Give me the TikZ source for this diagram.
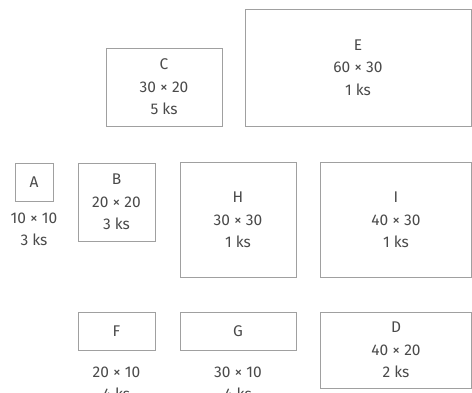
\documentclass[tikz,border=0pt]{standalone}
\usepackage{fontspec}
\setmainfont{Fira Sans}
\usetikzlibrary{positioning}
\definecolor{boxline}{HTML}{A0A0A0}
\definecolor{ink}{HTML}{4A4A4A}
\tikzset{
  part/.style={draw=boxline, line width=0.9pt, inner sep=0pt, text=ink,
    align=center, font=\fontsize{15.5}{22.5}\selectfont},
  note/.style={inner sep=0pt, text=ink, align=center,
    font=\fontsize{15.5}{22.5}\selectfont}
}
\begin{document}
\begin{tikzpicture}[x=1pt,y=-1pt]
		\useasboundingbox (0,0) rectangle (472,392);
		% top row
		\node[part, minimum width=116, minimum height=78] (c) at (164,87) {C\\30 × 20\\5 ks};
		\node[part, minimum width=226, minimum height=117] (e) at (358,67.5) {E\\60 × 30\\1 ks};
		% middle row
		\node[part, minimum width=38, minimum height=38] (a) at (34,182) {A};
		\node[note, below=11pt of a] (adim) {10 × 10\\3 ks};
		\node[part, minimum width=77, minimum height=78] (b) at (116.5,202) {B\\20 × 20\\3 ks};
		\node[part, minimum width=116, minimum height=115] (h) at (238,220) {H\\30 × 30\\1 ks};
		\node[part, minimum width=151, minimum height=115] (i) at (396,220) {I\\40 × 30\\1 ks};
		% bottom row
		\node[part, minimum width=77, minimum height=38] (f) at (116.5,331) {F};
		\node[note, below=16pt of f] (fdim) {20 × 10\\4 ks};
		\node[part, minimum width=116, minimum height=38] (g) at (238,331) {G};
		\node[note, below=16pt of g] (gdim) {30 × 10\\4 ks};
		\node[part, minimum width=151, minimum height=76] (d) at (396,350) {D\\40 × 20\\2 ks};
	\end{tikzpicture}
\end{document}
